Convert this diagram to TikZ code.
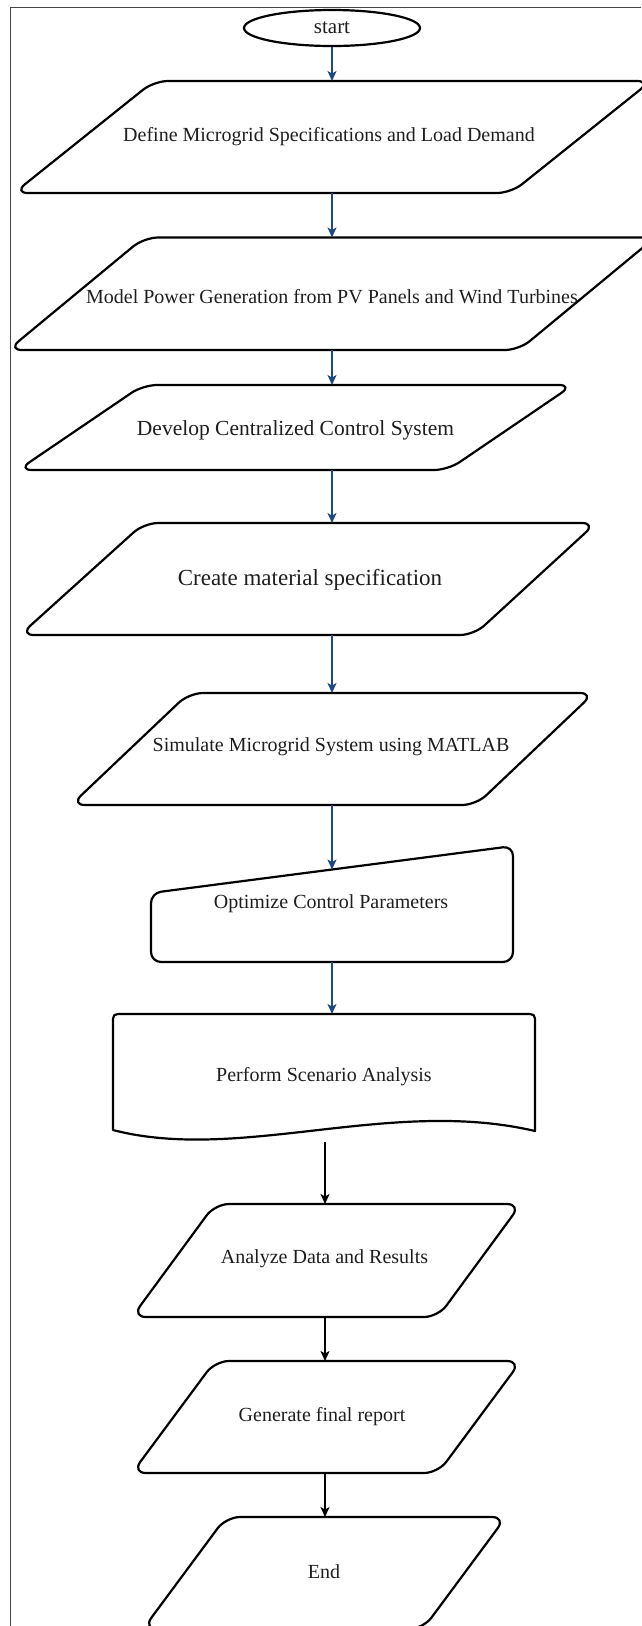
\documentclass[tikz,border=0pt]{standalone}
\usepackage{fontspec}
\setmainfont{Liberation Serif}
\usetikzlibrary{shapes.geometric,arrows.meta}
\definecolor{flowblue}{RGB}{31,73,125}
\definecolor{framegray}{RGB}{70,70,70}
\definecolor{inkgray}{RGB}{30,30,30}

\begin{document}
\begin{tikzpicture}[x=1pt,y=-1pt,
  outline/.style={draw=black, line width=2.2pt, rounded corners=14pt, line join=round},
  txt/.style={font=\fontsize{20}{24}\selectfont, inner sep=0pt, text=inkgray},
  arr/.style={draw=flowblue, line width=1.3pt, -{Stealth[length=10pt,width=9pt,inset=2.5pt]}},
  arrk/.style={arr, draw=black},
  frame/.style={draw=framegray, line width=1.4pt}]

\useasboundingbox (0,0) rectangle (641,1626);

% page frame (top and left edges)
\draw[frame] (10.5,1630) -- (10.5,7.5) -- (641,7.5);

% terminator
\node[ellipse, draw=black, line width=2.2pt, minimum width=176pt, minimum height=36pt,
      inner sep=0pt, font=\fontsize{21}{25}\selectfont, text=inkgray] (start) at (332,28) {start};

% step outlines
\draw[outline] (14,193) -- (154,81) -- (651,81) -- (511,193) -- cycle;
\draw[outline] (8,350) -- (144,237.5) -- (655,237.5) -- (519,350) -- cycle;
\draw[outline] (18,470) -- (143,385) -- (573,385) -- (448,470) -- cycle;
\draw[outline] (20,635) -- (144,523) -- (596,523) -- (474,635) -- cycle;
\draw[outline] (71,805) -- (189,693) -- (594,693) -- (476,805) -- cycle;
% manual input
\draw[outline, rounded corners=10pt] (151,962) -- (151,893) -- (513,846) -- (513,962) -- cycle;
% document
\draw[draw=black, line width=2.2pt, line join=round]
  (113,1130) -- (113,1024) .. controls (113,1014) .. (123,1014) -- (525,1014)
  .. controls (535,1014) .. (535,1024) -- (535,1131)
  .. controls (390,1097) and (240,1163) .. (113,1130) -- cycle;
\draw[outline] (132,1317) -- (215,1204) -- (521,1204) -- (438,1317) -- cycle;
\draw[outline] (132,1473) -- (215,1361) -- (521,1361) -- (438,1473) -- cycle;
\draw[outline] (143,1629) -- (226,1517) -- (506,1517) -- (423,1629) -- cycle;

% step labels
\node[txt] (t1) at (329,137) {Define Microgrid Specifications and Load Demand};
\node[txt] (t2) at (332,297) {Model Power Generation from PV Panels and Wind Turbines};
\node[txt, font=\fontsize{21.5}{26}\selectfont] (t3) at (295.5,430) {Develop Centralized Control System};
\node[txt, font=\fontsize{23}{28}\selectfont] (t4) at (310,580) {Create material specification};
\node[txt] (t5) at (331,747) {Simulate Microgrid System using MATLAB};
\node[txt] (t6) at (331,904) {Optimize Control Parameters};
\node[txt] (t7) at (324,1077) {Perform Scenario Analysis};
\node[txt] (t8) at (324.5,1259) {Analyze Data and Results};
\node[txt] (t9) at (322,1417) {Generate final report};
\node[txt] (t10) at (324,1572) {End};

% connection points on the outlines
\coordinate (p1in) at (332,81);    \coordinate (p1out) at (332,193);
\coordinate (p2in) at (332,237.5); \coordinate (p2out) at (332,350);
\coordinate (p3in) at (332,385);   \coordinate (p3out) at (332,470);
\coordinate (p4in) at (332,523);   \coordinate (p4out) at (332,635);
\coordinate (p5in) at (332,693);   \coordinate (p5out) at (332,805);
\coordinate (p6in) at (332,869.5); \coordinate (p6out) at (332,962);
\coordinate (p7in) at (332,1014);  \coordinate (p7out) at (325,1142);
\coordinate (p8in) at (325,1204);  \coordinate (p8out) at (325,1317);
\coordinate (p9in) at (325,1361);  \coordinate (p9out) at (325,1473);
\coordinate (p10in) at (325,1517);

% connectors
\draw[arr] (start.south) -- (p1in);
\draw[arr] (p1out) -- (p2in);
\draw[arr] (p2out) -- (p3in);
\draw[arr] (p3out) -- (p4in);
\draw[arr] (p4out) -- (p5in);
\draw[arr] (p5out) -- (p6in);
\draw[arr] (p6out) -- (p7in);
\draw[arrk] (p7out) -- (p8in);
\draw[arrk] (p8out) -- (p9in);
\draw[arrk] (p9out) -- (p10in);
\end{tikzpicture}
\end{document}
